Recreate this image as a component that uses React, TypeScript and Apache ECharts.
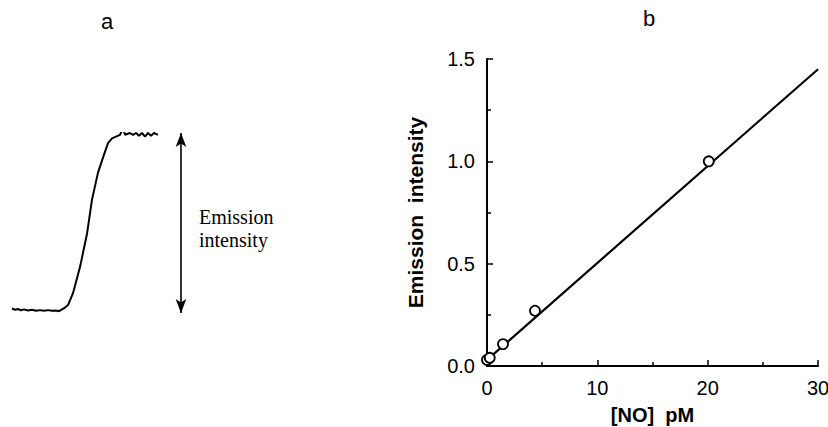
import React, { useEffect, useRef } from "react";
import * as echarts from "echarts";

// Panel a: kinetic trace (arbitrary time units, normalized emission)
const traceTime = [0, 3, 6, 9, 12, 16, 20, 24, 28, 32, 36, 40, 44, 47, 50, 53, 56, 61, 68, 75, 80, 86, 92, 96, 100, 104, 108, 111, 113, 118, 121, 124, 127, 130, 133, 136, 139, 142, 146];
const traceValue = [0.025, 0.018, 0.022, 0.015, 0.02, 0.014, 0.018, 0.012, 0.016, 0.012, 0.016, 0.012, 0.014, 0.01, 0.02, 0.03, 0.044, 0.11, 0.255, 0.44, 0.63, 0.78, 0.88, 0.944, 0.97, 0.98, 0.99, 1.03, 0.99, 1.0, 0.99, 1.0, 0.985, 1.0, 0.98, 1.0, 0.985, 1.0, 0.99];
const arrowTime = 169;

// Panel b: calibration
const noConc = [0, 0.25, 1.45, 4.35, 20.1];
const emission = [0.03, 0.04, 0.107, 0.27, 1.0];
const fitX = [0, 30];
const fitY = [0.03, 1.45];
const xTicks = [0, 10, 20, 30];
const yTicks = [0, 0.5, 1.0, 1.5];

export default function App() {
  const ref = useRef<HTMLDivElement>(null);
  useEffect(() => {
    if (!ref.current) return;
    const chart = echarts.init(ref.current, null, { renderer: "svg" });
    const sans = "Liberation Sans";
    chart.setOption({
      animation: false,
      backgroundColor: "#ffffff",
      graphic: [
        { type: "text", left: 101, top: 10, style: { text: "a", font: "22px Liberation Sans", fill: "#000" } },
        { type: "text", left: 643, top: 7, style: { text: "b", font: "22px Liberation Sans", fill: "#000" } },
        {
          type: "text",
          left: 199,
          top: 205,
          style: { text: "Emission\nintensity", font: "20px Liberation Serif", fill: "#000", lineHeight: 23 },
        },
      ],
      grid: [
        { left: 12, top: 133, width: 170, height: 180, outerBoundsMode: "none", containLabel: false },
        { left: 487, top: 59, width: 331, height: 307, outerBoundsMode: "none", containLabel: false },
      ],
      xAxis: [
        { gridIndex: 0, type: "value", min: 0, max: 170, show: false },
        {
          gridIndex: 1,
          type: "value",
          min: 0,
          max: 30,
          interval: 10,
          name: "[NO]  pM",
          nameLocation: "middle",
          nameGap: 39,
          nameTextStyle: { fontFamily: sans, fontSize: 20, fontWeight: "bold", color: "#000" },
          axisLine: { show: true, onZero: false, lineStyle: { color: "#000", width: 2 } },
          axisTick: { show: true, inside: true, length: 6, lineStyle: { color: "#000", width: 1.5 } },
          minorTick: { show: true, splitNumber: 2, length: 4, lineStyle: { color: "#000", width: 1.5 } },
          splitLine: { show: false },
          axisLabel: { fontFamily: sans, fontSize: 20, color: "#000", margin: 12, customValues: xTicks },
        },
      ],
      yAxis: [
        { gridIndex: 0, type: "value", min: 0, max: 1, show: false },
        {
          gridIndex: 1,
          type: "value",
          min: 0,
          max: 1.5,
          interval: 0.5,
          name: "Emission  intensity",
          nameLocation: "middle",
          nameGap: 61,
          nameTextStyle: { fontFamily: sans, fontSize: 21, fontWeight: "bold", color: "#000" },
          axisLine: { show: true, onZero: false, lineStyle: { color: "#000", width: 2 } },
          axisTick: { show: true, inside: true, length: 6, lineStyle: { color: "#000", width: 1.5 } },
          minorTick: { show: true, splitNumber: 2, length: 4, lineStyle: { color: "#000", width: 1.5 } },
          splitLine: { show: false },
          axisLabel: {
            fontFamily: sans,
            fontSize: 20,
            color: "#000",
            margin: 12,
            formatter: (v: number) => (yTicks.includes(v) ? v.toFixed(1) : ""),
          },
        },
      ],
      series: [
        {
          type: "line",
          xAxisIndex: 0,
          yAxisIndex: 0,
          data: traceTime.map((t, i) => [t, traceValue[i]]),
          showSymbol: false,
          lineStyle: { color: "#000", width: 2 },
          markLine: {
            silent: true,
            symbol: ["arrow", "arrow"],
            symbolSize: [8, 14],
            label: { show: false },
            lineStyle: { color: "#000", width: 1.6, type: "solid" },
            data: [[{ coord: [arrowTime, 0] }, { coord: [arrowTime, 1] }]],
          },
        },
        {
          type: "line",
          xAxisIndex: 1,
          yAxisIndex: 1,
          data: fitX.map((x, i) => [x, fitY[i]]),
          showSymbol: false,
          lineStyle: { color: "#000", width: 2.2 },
        },
        {
          type: "scatter",
          xAxisIndex: 1,
          yAxisIndex: 1,
          data: noConc.map((x, i) => [x, emission[i]]),
          symbol: "circle",
          symbolSize: 10,
          itemStyle: { color: "#fff", borderColor: "#000", borderWidth: 1.8, opacity: 1 },
          z: 5,
        },
      ],
    });
    return () => chart.dispose();
  }, []);
  return <div ref={ref} style={{ position: "fixed", left: 0, top: 0, width: 828, height: 427 }} />;
}
